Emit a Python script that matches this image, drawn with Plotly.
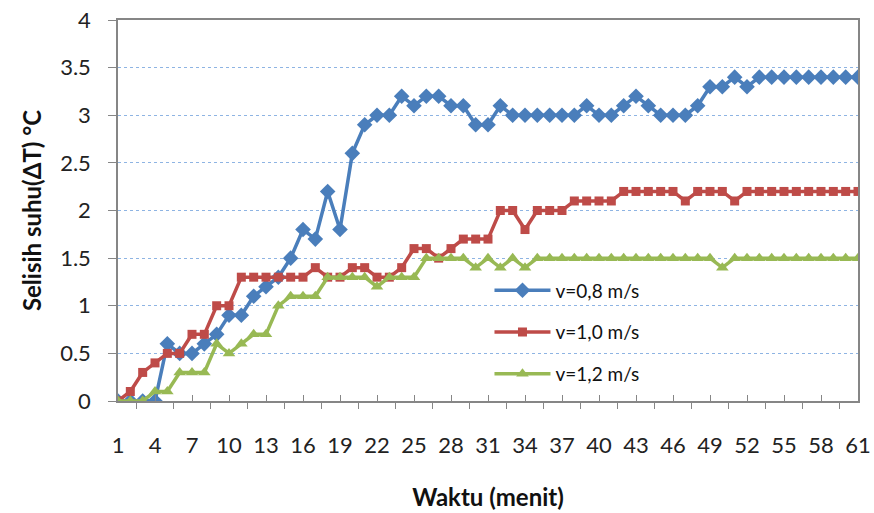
import plotly.graph_objects as go

waktu = list(range(1, 62))

v08 = [0, 0, 0, 0, 0.6, 0.5, 0.5, 0.6, 0.7, 0.9,
       0.9, 1.1, 1.2, 1.3, 1.5, 1.8, 1.7, 2.2, 1.8, 2.6,
       2.9, 3.0, 3.0, 3.2, 3.1, 3.2, 3.2, 3.1, 3.1, 2.9,
       2.9, 3.1, 3.0, 3.0, 3.0, 3.0, 3.0, 3.0, 3.1, 3.0,
       3.0, 3.1, 3.2, 3.1, 3.0, 3.0, 3.0, 3.1, 3.3, 3.3,
       3.4, 3.3, 3.4, 3.4, 3.4, 3.4, 3.4, 3.4, 3.4, 3.4,
       3.4]

v10 = [0, 0.1, 0.3, 0.4, 0.5, 0.5, 0.7, 0.7, 1.0, 1.0,
       1.3, 1.3, 1.3, 1.3, 1.3, 1.3, 1.4, 1.3, 1.3, 1.4,
       1.4, 1.3, 1.3, 1.4, 1.6, 1.6, 1.5, 1.6, 1.7, 1.7,
       1.7, 2.0, 2.0, 1.8, 2.0, 2.0, 2.0, 2.1, 2.1, 2.1,
       2.1, 2.2, 2.2, 2.2, 2.2, 2.2, 2.1, 2.2, 2.2, 2.2,
       2.1, 2.2, 2.2, 2.2, 2.2, 2.2, 2.2, 2.2, 2.2, 2.2,
       2.2]

v12 = [0, 0, 0, 0.1, 0.1, 0.3, 0.3, 0.3, 0.6, 0.5,
       0.6, 0.7, 0.7, 1.0, 1.1, 1.1, 1.1, 1.3, 1.3, 1.3,
       1.3, 1.2, 1.3, 1.3, 1.3, 1.5, 1.5, 1.5, 1.5, 1.4,
       1.5, 1.4, 1.5, 1.4, 1.5, 1.5, 1.5, 1.5, 1.5, 1.5,
       1.5, 1.5, 1.5, 1.5, 1.5, 1.5, 1.5, 1.5, 1.5, 1.4,
       1.5, 1.5, 1.5, 1.5, 1.5, 1.5, 1.5, 1.5, 1.5, 1.5,
       1.5]

series_names = ["v=0,8 m/s", "v=1,0 m/s", "v=1,2 m/s"]
x_tick_labels = [str(v) for v in range(1, 62, 3)]
y_tick_values = [0, 0.5, 1, 1.5, 2, 2.5, 3, 3.5, 4]

FONT = "Lato, 'Open Sans', sans-serif"
styles = [
    dict(color="#4A7EBB", symbol="diamond", size=12),
    dict(color="#BE4B48", symbol="square", size=9),
    dict(color="#98B954", symbol="triangle-up", size=11),
]

fig = go.Figure()
for i, (name, vals, st) in enumerate(zip(series_names, [v08, v10, v12], styles)):
    fig.add_trace(go.Scatter(
        x=waktu, y=vals, name=name, mode="lines+markers",
        legendgroup=f"g{i}",
        line=dict(color=st["color"], width=3.5),
        marker=dict(symbol=st["symbol"], size=st["size"], color=st["color"],
                    line=dict(width=0)),
    ))

fig.update_layout(
    width=874, height=513,
    margin=dict(l=118, r=16, t=20, b=112),
    paper_bgcolor="white", plot_bgcolor="white",
    font=dict(family=FONT, color="#222222"),
    showlegend=True,
    legend=dict(
        x=0.502, y=0.34, xanchor="left", yanchor="top",
        bgcolor="rgba(0,0,0,0)", font=dict(size=19, family=FONT, color="#111111"),
        tracegroupgap=14, itemwidth=56,
    ),
    xaxis=dict(
        range=[1, 61], tickmode="array",
        tickvals=[int(t) for t in x_tick_labels], ticktext=x_tick_labels,
        ticks="inside", ticklen=6, tickcolor="#868686",
        showline=True, linecolor="#868686", linewidth=1.5, mirror=True,
        showgrid=False, zeroline=False, automargin=False,
        tickfont=dict(size=22, family=FONT, color="#222222"),
        ticklabelstandoff=24,
        minor=dict(tickmode="array",
                   tickvals=[2.5 + 3 * k for k in range(20)] + [61],
                   ticks="outside", ticklen=6, tickcolor="#868686", showgrid=False),
        title=dict(text="<b>Waktu (menit)</b>", font=dict(size=24, family=FONT, color="#111111"),
                   standoff=32),
    ),
    yaxis=dict(
        range=[0, 4], tickmode="array", tickvals=y_tick_values,
        ticktext=[f"{v:g}" for v in y_tick_values],
        ticks="outside", ticklen=8, tickcolor="#868686",
        showline=True, linecolor="#868686", linewidth=1.5, mirror=True,
        showgrid=True, gridcolor="#8EB4E3", griddash="dot", gridwidth=1,
        zeroline=False, automargin=False,
        tickfont=dict(size=22, family=FONT, color="#222222"),
        ticklabelstandoff=13,
        title=dict(text="<b>Selisih suhu(ΔT) °C</b>", font=dict(size=24, family=FONT, color="#111111"),
                   standoff=12),
    ),
)

fig.write_html("out.html")
